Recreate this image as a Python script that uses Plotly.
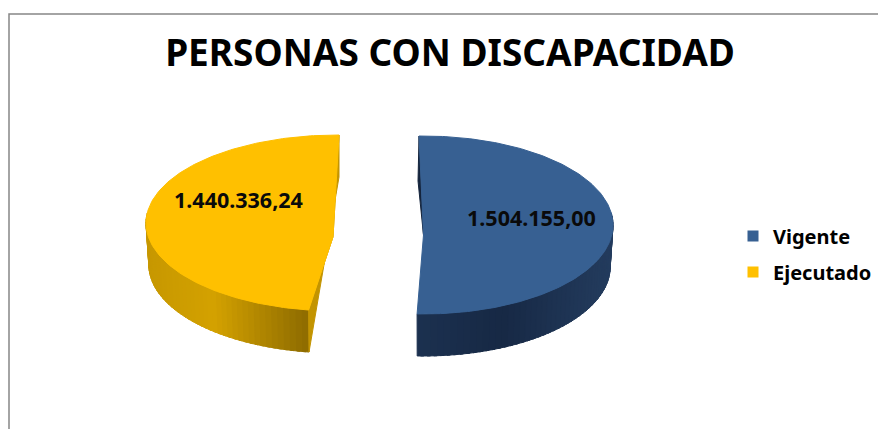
import numpy as np
import plotly.graph_objects as go

TITLE = "PERSONAS CON DISCAPACIDAD"
categories = ["Vigente", "Ejecutado"]
values = [1504155.00, 1440336.24]
labels = ["1.504.155,00", "1.440.336,24"]
colors = ["#376092", "#FFC000"]

W, H = 878, 429
total = sum(values)
sweeps = [v / total * 360 for v in values]

# geometry of the projected pie, in canvas units
GEO = {
    "Vigente": dict(cx=423, cy=225, a=190, b=89, vx=423.5, vy=235, start=-1.2, scale=0.995, depth=42,
                    wall=[(417, "#1c3150"), (500, "#172945"), (610, "#243c5e")]),
    "Ejecutado": dict(cx=337, cy=223, a=191, b=88, vx=333, vy=237, start=360.6, scale=-0.977, depth=42,
                      wall=[(146, "#c79800"), (215, "#d4a200"), (312, "#8c6a00")]),
}


def hex2rgb(h):
    return np.array([int(h[i:i + 2], 16) for i in (1, 3, 5)], float)


def wall_colour(stops, x):
    xs = [s[0] for s in stops]
    rgb = [np.interp(x, xs, [hex2rgb(s[1])[k] for s in stops]) for k in range(3)]
    return "rgb(%d,%d,%d)" % tuple(rgb)


def arc(g, t):
    r = np.radians(t)
    return g["cx"] + g["a"] * np.sin(r), g["cy"] - g["b"] * np.cos(r)


def lower(g, x, y):
    return g["cx"] + (x - g["cx"]) * 0.985, y + g["depth"]


fig = go.Figure()


def patch(xs, ys, colour):
    fig.add_trace(go.Scatter(x=xs, y=ys, mode="lines", fill="toself", fillcolor=colour,
                             line=dict(color=colour, width=1), hoverinfo="skip", showlegend=False))


for name, value, sweep, colour in zip(categories, values, sweeps, colors):
    g = GEO[name]
    ts = np.linspace(g["start"], g["start"] + g["scale"] * sweep, 181)
    ax, ay = arc(g, ts)

    # outer wall, drawn as shaded strips
    for i in range(0, 180, 2):
        t0, t1 = ts[i], ts[min(i + 3, 180)]
        if np.cos(np.radians((t0 + t1) / 2)) > 0.12:
            continue
        x0, y0 = arc(g, t0)
        x1, y1 = arc(g, t1)
        bx0, by0 = lower(g, x0, y0)
        bx1, by1 = lower(g, x1, y1)
        patch([x0, x1, bx1, bx0, x0], [y0, y1, by1, by0, y0], wall_colour(g["wall"], (x0 + x1) / 2))

    # inner cut face seen at the open side
    if name == "Ejecutado":
        ex, ey = arc(g, ts[-1])
        bx, by = lower(g, ex, ey)
        patch([ax[0], ax[0], bx, ex, g["vx"], ax[0]], [ay[0], ay[0] + 42, by, ey, g["vy"], ay[0]], "#c39400")
    else:
        patch([ax[0], ax[0] - 1, g["vx"], ax[0]], [ay[0], ay[0] + 45, g["vy"], ay[0]], "#14243c")

    # top surface
    patch(list(ax) + [g["vx"], ax[0]], list(ay) + [g["vy"], ay[0]], colour)

# legend entries
for name, colour in zip(categories, colors):
    fig.add_trace(go.Scatter(x=[None], y=[None], mode="markers", name=name, legendgroup=name,
                             marker=dict(symbol="square", size=11, color=colour)))

fig.add_annotation(x=531, y=217, text="<b>%s</b>" % labels[0], showarrow=False,
                   font=dict(family="Noto Sans", size=21.5, color="#0a0a0a"))
fig.add_annotation(x=238, y=199, text="<b>%s</b>" % labels[1], showarrow=False,
                   font=dict(family="Noto Sans", size=21.5, color="#0a0a0a"))

fig.add_shape(type="rect", x0=9, y0=14, x1=W * 2, y1=H * 2, line=dict(color="#868686", width=1.5), layer="below")

fig.update_layout(
    width=W, height=H, autosize=False,
    margin=dict(l=0, r=0, t=0, b=0),
    paper_bgcolor="white", plot_bgcolor="white",
    title=dict(text="<b>%s</b>" % TITLE, x=450 / W, xanchor="center", y=1 - 53 / H, yanchor="middle",
               font=dict(family="Noto Sans", size=37, color="#000000")),
    xaxis=dict(range=[0, W], visible=False, fixedrange=True),
    yaxis=dict(range=[H, 0], visible=False, fixedrange=True),
    legend=dict(x=733 / W, y=1 - 254 / H, xanchor="left", yanchor="middle", bgcolor="rgba(0,0,0,0)",
                font=dict(family="Noto Sans", size=20, color="#000000", weight="bold"),
                itemwidth=30, tracegroupgap=7),
    showlegend=True,
)
fig.write_html("out.html", config={"displayModeBar": False},
               post_script="document.body.style.margin='0';document.body.style.overflow='hidden';")
